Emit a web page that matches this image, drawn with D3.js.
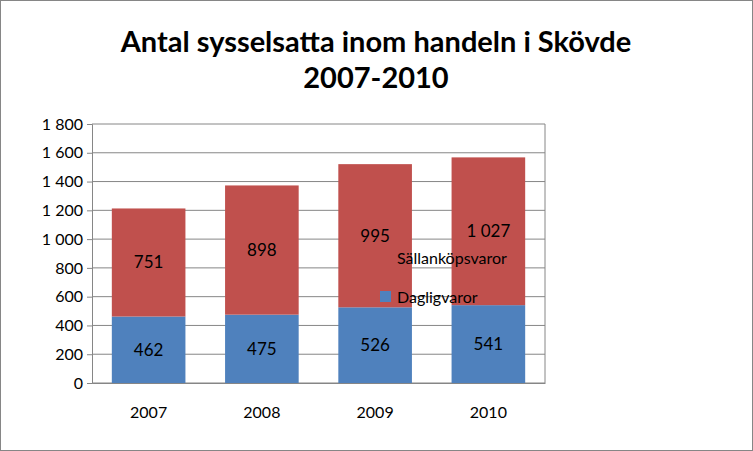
<!DOCTYPE html>
<html><head><meta charset="utf-8">
<script src="https://cdn.jsdelivr.net/npm/d3@7"></script>
<style>body{margin:0;background:#fff}</style>
</head><body>
<svg id="chart" width="753" height="451"></svg>
<script>
const years = ["2007", "2008", "2009", "2010"];
const dagligvaror = [462, 475, 526, 541];
const sallankop = [751, 898, 995, 1027];
const seriesNames = ["Sällanköpsvaror", "Dagligvaror"];
const ticks = [0, 200, 400, 600, 800, 1000, 1200, 1400, 1600, 1800];

const svg = d3.select("#chart");
const font = "Lato, 'Open Sans', sans-serif";
const fmt = v => d3.format(",")(v).replace(/,/g, " ");

svg.append("rect").attr("x", 0.5).attr("y", 0.5).attr("width", 752).attr("height", 450)
  .attr("fill", "#fff").attr("stroke", "#868686");

// Tiêu đề
svg.append("text").attr("x", 376).attr("y", 52).attr("text-anchor", "middle")
  .style("font", `bold 29px ${font}`).text("Antal sysselsatta inom handeln i Skövde");
svg.append("text").attr("x", 376).attr("y", 88).attr("text-anchor", "middle")
  .style("font", `bold 29px ${font}`).text("2007-2010");

const pLeft = 92, pRight = 545, pTop = 124, pBottom = 383;
const x = d3.scaleBand().domain(years).range([pLeft, pRight]).paddingInner(0.35).paddingOuter(0.175);
const y = d3.scaleLinear().domain([0, 1800]).range([pBottom, pTop]);

// Lưới
svg.append("g").selectAll("line").data(ticks).join("line")
  .attr("x1", pLeft).attr("x2", pRight).attr("y1", d => y(d)).attr("y2", d => y(d))
  .attr("stroke", "#868686");
svg.append("line").attr("x1", pRight).attr("x2", pRight).attr("y1", pTop).attr("y2", pBottom).attr("stroke", "#868686");

// Trục Y
svg.append("g").attr("transform", `translate(${pLeft},0)`)
  .call(d3.axisLeft(y).tickValues(ticks).tickFormat(fmt).tickSize(5).tickPadding(4))
  .call(g => g.selectAll("path,line").attr("stroke", "#868686"))
  .selectAll("text").style("font", `16px ${font}`).attr("fill", "#000");

// Trục X
svg.append("g").attr("transform", `translate(0,${pBottom})`)
  .call(d3.axisBottom(x).tickSize(0).tickPadding(24))
  .call(g => g.selectAll("path").attr("stroke", "#868686"))
  .selectAll("text").style("font", `16px ${font}`).attr("fill", "#000");

// Cột chồng
const data = years.map((yr, i) => ({ yr, d: dagligvaror[i], s: sallankop[i] }));
const g = svg.append("g");
data.forEach(r => {
  g.append("rect").attr("x", x(r.yr)).attr("width", x.bandwidth())
    .attr("y", y(r.d)).attr("height", y(0) - y(r.d)).attr("fill", "#4F81BD");
  g.append("rect").attr("x", x(r.yr)).attr("width", x.bandwidth())
    .attr("y", y(r.d + r.s)).attr("height", y(r.d) - y(r.d + r.s)).attr("fill", "#C0504D");
  g.append("text").attr("x", x(r.yr) + x.bandwidth() / 2).attr("y", (y(0) + y(r.d)) / 2 + 6)
    .attr("text-anchor", "middle").style("font", `17px ${font}`).text(fmt(r.d));
  g.append("text").attr("x", x(r.yr) + x.bandwidth() / 2).attr("y", (y(r.d) + y(r.d + r.s)) / 2 + 6)
    .attr("text-anchor", "middle").style("font", `17px ${font}`).text(fmt(r.s));
});

// Chú giải
const colors = ["#C0504D", "#4F81BD"];
seriesNames.forEach((n, i) => {
  const ly = 258 + i * 39;
  svg.append("rect").attr("x", 380).attr("y", ly - 6).attr("width", 11).attr("height", 11).attr("fill", colors[i]);
  svg.append("text").attr("x", 397).attr("y", ly + 6).style("font", `16px ${font}`).text(n);
});
</script>
</body></html>
